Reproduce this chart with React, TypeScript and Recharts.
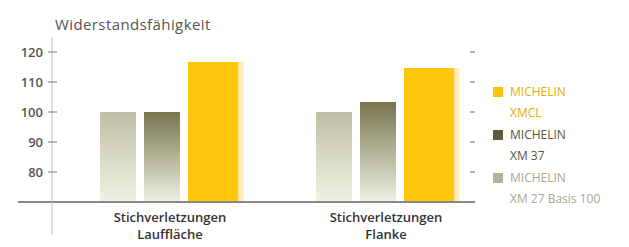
import { Bar, BarChart, Legend, ReferenceLine, XAxis, YAxis } from 'recharts';

const categories = ['Stichverletzungen|Lauffläche', 'Stichverletzungen|Flanke'];
const xm27 = [100, 100];
const xm37 = [100, 103.3];
const xmcl = [116.7, 114.7];
const baseline = 70;
const yTicks = [80, 90, 100, 110, 120];
const seriesNames = ['MICHELIN|XM 27 Basis 100', 'MICHELIN|XM 37', 'MICHELIN|XMCL'];

const data = categories.map((name, i) => ({
    name,
    xm27: [baseline, xm27[i]],
    xm37: [baseline, xm37[i]],
    xmcl: [baseline, xmcl[i]],
}));

const legendStyle: Record<string, { box: string; text: string }> = {
    xmcl: { box: '#ffc20e', text: '#e3ae08' },
    xm37: { box: '#5c5a3a', text: '#56553c' },
    xm27: { box: '#b3b19a', text: '#a9a892' },
};

const font = '"Open Sans", sans-serif';

const LeftTick = (p: any) => (
    <g>
        <line x1={p.x - 4} x2={p.x + 5} y1={p.y} y2={p.y} stroke="#777" />
        <text x={p.x - 9} y={p.y + 5} textAnchor="end" fontSize={13} fontWeight={600} fill="#555" fontFamily={font}>
            {p.payload.value}
        </text>
    </g>
);

const RightTick = (p: any) => <line x1={p.x - 2} x2={p.x + 3} y1={p.y} y2={p.y} stroke="#666" />;

const CatTick = (p: any) => {
    const [a, b] = String(p.payload.value).split('|');
    return (
        <text textAnchor="middle" fontSize={13} fontWeight={600} fill="#333" fontFamily={font}>
            <tspan x={p.x - 2} y={p.y - 13}>{a}</tspan>
            <tspan x={p.x - 2} y={p.y + 4}>{b}</tspan>
        </text>
    );
};

const LegendContent = (props: any) => {
    const items = [...(props.payload || [])].reverse();
    return (
        <div style={{ fontFamily: font, fontSize: 12 }}>
            {items.map((it: any) => {
                const st = legendStyle[it.dataKey];
                const [l1, l2] = String(it.value).split('|');
                return (
                    <div key={it.dataKey} style={{ position: 'relative', paddingLeft: 17, lineHeight: '21px', marginBottom: 1, color: st.text }}>
                        <span style={{ position: 'absolute', left: 0, top: 6, width: 10, height: 10, background: st.box }} />
                        <div>{l1}</div>
                        <div>{l2}</div>
                    </div>
                );
            })}
        </div>
    );
};

export default function App() {
    return (
        <div style={{ position: 'absolute', left: 0, top: 0, width: 629, height: 247, background: '#fff' }}>
            <div style={{ position: 'absolute', left: 55, top: 14, fontFamily: font, fontSize: 15, letterSpacing: 0.4, color: '#555' }}>
                Widerstandsfähigkeit
            </div>
            <BarChart width={629} height={247} data={data} margin={{ top: 37, right: 147, left: 0, bottom: 0 }} barGap={8}>
                <defs>
                    <linearGradient id="g27" x1="0" y1="0" x2="0" y2="1">
                        <stop offset="0%" stopColor="#c0bfa4" />
                        <stop offset="100%" stopColor="#eff2e2" />
                    </linearGradient>
                    <linearGradient id="g37" x1="0" y1="0" x2="0" y2="1">
                        <stop offset="0%" stopColor="#77744e" />
                        <stop offset="100%" stopColor="#eff2e2" />
                    </linearGradient>
                    <linearGradient id="gcl" x1="0" y1="0" x2="1" y2="0">
                        <stop offset="0%" stopColor="#ffc60b" />
                        <stop offset="90%" stopColor="#ffc60b" />
                        <stop offset="90%" stopColor="#ffe7a0" />
                        <stop offset="100%" stopColor="#fff3d0" />
                    </linearGradient>
                </defs>
                <XAxis
                    dataKey="name"
                    height={12}
                    axisLine={false}
                    tickLine={false}
                    tickSize={0}
                    tickMargin={0}
                    padding={{ left: 12, right: -24 }}
                    tick={<CatTick />}
                    interval={0}
                />
                <YAxis
                    yAxisId="l"
                    width={52}
                    domain={[59, 125]}
                    allowDataOverflow
                    ticks={yTicks}
                    axisLine={{ stroke: '#bbb' }}
                    tickLine={false}
                    tickSize={0}
                    tickMargin={0}
                    tick={<LeftTick />}
                />
                <YAxis
                    yAxisId="r"
                    orientation="right"
                    width={10}
                    domain={[59, 125]}
                    allowDataOverflow
                    ticks={yTicks}
                    axisLine={false}
                    tickLine={false}
                    tickSize={0}
                    tickMargin={0}
                    tick={<RightTick />}
                />
                <Legend
                    layout="vertical"
                    align="center"
                    verticalAlign="middle"
                    wrapperStyle={{ left: 493, top: 81, width: 136 }}
                    content={<LegendContent />}
                />
                <Bar yAxisId="l" dataKey="xm27" name={seriesNames[0]} barSize={36} fill="url(#g27)" isAnimationActive={false} />
                <Bar yAxisId="l" dataKey="xm37" name={seriesNames[1]} barSize={36} fill="url(#g37)" isAnimationActive={false} />
                <Bar yAxisId="l" dataKey="xmcl" name={seriesNames[2]} barSize={56} fill="url(#gcl)" isAnimationActive={false} />
                <ReferenceLine
                    yAxisId="l"
                    y={baseline}
                    shape={(p: any) => (
                        <line x1={p.x1 - 34} x2={p.x2 + 3} y1={p.y1} y2={p.y2} stroke="#888" strokeWidth={2} />
                    )}
                />
            </BarChart>
        </div>
    );
}
